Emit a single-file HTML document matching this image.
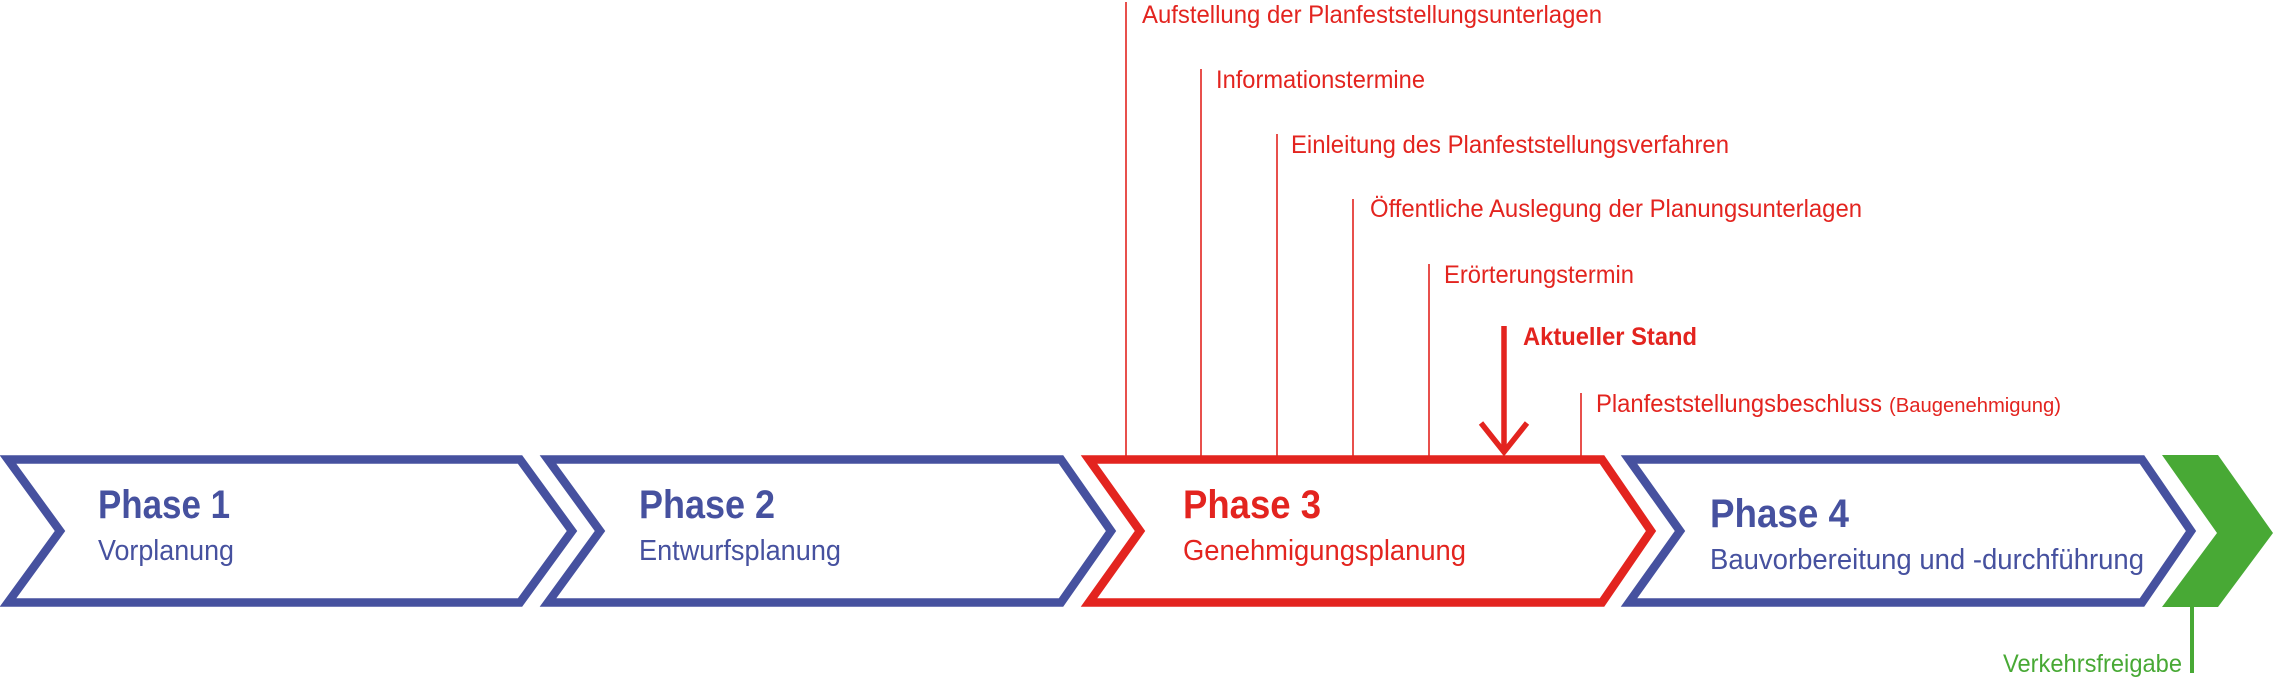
<!DOCTYPE html>
<html><head><meta charset="utf-8"><style>
html,body{margin:0;padding:0;background:#fff;}
svg{display:block;}
text{font-family:"Liberation Sans",sans-serif;}
</style></head><body>
<svg width="2273" height="684" viewBox="0 0 2273 684" xmlns="http://www.w3.org/2000/svg">
<g fill="none" stroke-width="8.5" stroke-linejoin="miter">
<polygon stroke="#46519f" points="8,459.5 520,459.5 572,531 520,602.5 8,602.5 60,531"/>
<polygon stroke="#46519f" points="548,459.5 1061,459.5 1111,531 1061,602.5 548,602.5 600,531"/>
<polygon stroke="#e3241f" points="1089,459.5 1602,459.5 1651,531 1602,602.5 1089,602.5 1140,531"/>
<polygon stroke="#46519f" points="1629,459.5 2142,459.5 2191,531 2142,602.5 1629,602.5 1680,531"/>
</g>
<polygon fill="#48a935" points="2162,455 2218,455 2273,533 2218,607 2162,607 2217,533"/>
<rect x="2190" y="607" width="4" height="66" fill="#48a935"/>
<text x="2182" y="672" text-anchor="end" font-size="25" fill="#48a935" textLength="179" lengthAdjust="spacingAndGlyphs">Verkehrsfreigabe</text>

<g stroke="#e3241f" stroke-width="1.6">
<line x1="1126" y1="2" x2="1126" y2="456"/>
<line x1="1201" y1="69" x2="1201" y2="456"/>
<line x1="1277" y1="134" x2="1277" y2="456"/>
<line x1="1353" y1="199" x2="1353" y2="456"/>
<line x1="1429" y1="264" x2="1429" y2="456"/>
<line x1="1581" y1="393" x2="1581" y2="456"/>
</g>
<g stroke="#e3241f" stroke-width="5.5" fill="none">
<line x1="1504" y1="326" x2="1504" y2="452"/>
<polyline points="1481,423 1504,452 1527,423"/>
</g>
<g fill="#e3241f" font-size="25">
<text x="1142" y="23" textLength="460" lengthAdjust="spacingAndGlyphs">Aufstellung der Planfeststellungsunterlagen</text>
<text x="1216" y="88" textLength="209" lengthAdjust="spacingAndGlyphs">Informationstermine</text>
<text x="1291" y="153" textLength="438" lengthAdjust="spacingAndGlyphs">Einleitung des Planfeststellungsverfahren</text>
<text x="1370" y="217" textLength="492" lengthAdjust="spacingAndGlyphs">Öffentliche Auslegung der Planungsunterlagen</text>
<text x="1444" y="283" textLength="190" lengthAdjust="spacingAndGlyphs">Erörterungstermin</text>
<text x="1523" y="345" font-weight="bold" font-size="25" textLength="174" lengthAdjust="spacingAndGlyphs">Aktueller Stand</text>
<text x="1596" y="412" textLength="286" lengthAdjust="spacingAndGlyphs">Planfeststellungsbeschluss</text>
<text x="1889" y="412" font-size="20" textLength="172" lengthAdjust="spacingAndGlyphs">(Baugenehmigung)</text>
</g>

<g fill="#46519f">
<text x="98" y="518" font-size="40" font-weight="bold" textLength="132" lengthAdjust="spacingAndGlyphs">Phase 1</text>
<text x="98" y="560" font-size="29" textLength="136" lengthAdjust="spacingAndGlyphs">Vorplanung</text>
<text x="639" y="518" font-size="40" font-weight="bold" textLength="136" lengthAdjust="spacingAndGlyphs">Phase 2</text>
<text x="639" y="560" font-size="29" textLength="202" lengthAdjust="spacingAndGlyphs">Entwurfsplanung</text>
<text x="1710" y="527" font-size="40" font-weight="bold" textLength="139" lengthAdjust="spacingAndGlyphs">Phase 4</text>
<text x="1710" y="569" font-size="29" textLength="434" lengthAdjust="spacingAndGlyphs">Bauvorbereitung und -durchführung</text>
</g>
<g fill="#e3241f">
<text x="1183" y="518" font-size="40" font-weight="bold" textLength="138" lengthAdjust="spacingAndGlyphs">Phase 3</text>
<text x="1183" y="560" font-size="29" textLength="283" lengthAdjust="spacingAndGlyphs">Genehmigungsplanung</text>
</g>
</svg>
</body></html>
